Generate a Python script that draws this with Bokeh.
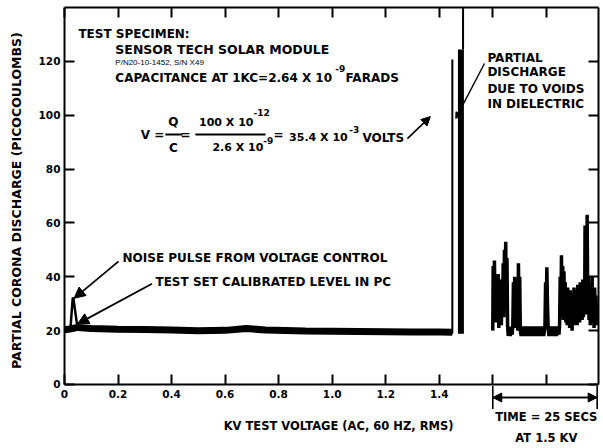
import math
from bokeh.plotting import figure
from bokeh.models import Range1d, FixedTicker, LinearAxis, Label, Arrow, NormalHead, TeeHead
from bokeh.embed import file_html
from bokeh.resources import INLINE

# ---------------- data ----------------
x_ticks = [0, 0.2, 0.4, 0.6, 0.8, 1.0, 1.2, 1.4, 1.6, 1.8]
x_tick_labels = ["0", "0.2", "0.4", "0.6", "0.8", "1.0", "1.2", "1.4", "", ""]
y_ticks = [0, 20, 40, 60, 80, 100, 120]
y_tick_labels = ["0", "20", "40", "60", "80", "100", "120"]

# voltage sweep (kV) – recorder baseline band
sweep_kv = [0.0, 0.02, 0.05, 0.1, 0.2, 0.3, 0.4, 0.5, 0.6, 0.68, 0.75, 0.9, 1.0, 1.1, 1.2, 1.3, 1.4, 1.449]
sweep_pc = [20.3, 20.6, 21.2, 20.8, 20.5, 20.4, 20.2, 20.0, 20.1, 20.8, 20.2, 19.9, 19.8, 19.7, 19.6, 19.5, 19.5, 19.4]
# noise pulse from voltage control
pulse_kv = [0.022, 0.031, 0.034, 0.048]
pulse_pc = [20.5, 32.3, 31.5, 21.5]
# partial discharge spikes near 1.45 kV
spike_kv = [1.449, 1.481]
spike_pc = [120.7, 124.4]
spike_base = 18.8
offscale_kv = 1.489

# 25 s recording held at 1.5 kV
time_s = [0.00, 0.10, 0.25, 0.40, 0.55, 0.70, 0.85, 1.00, 1.15, 1.30, 1.45, 1.60, 1.75, 1.90, 2.05, 2.20, 2.35,
          2.50, 2.65, 2.80, 2.95, 3.10, 3.25, 3.40, 3.55, 3.70, 3.95, 4.20, 4.45, 4.65, 4.80, 4.95, 5.10, 5.25,
          5.40, 5.55, 5.70, 5.85, 6.00, 6.15, 6.30, 6.45, 6.60, 6.80, 7.10, 7.40, 7.70, 8.00, 8.30, 8.60, 8.90,
          9.20, 9.50, 9.80, 10.10, 10.40, 10.70, 11.00, 11.30, 11.60, 11.90, 12.20, 12.50, 12.65, 12.80, 12.95,
          13.10, 13.25, 13.45, 13.75, 14.05, 14.35, 14.65, 14.95, 15.25, 15.55, 15.85, 16.00, 16.15, 16.30,
          16.45, 16.60, 16.75, 16.90, 17.05, 17.20, 17.35, 17.50, 17.65, 17.80, 17.95, 18.10, 18.25, 18.40,
          18.55, 18.70, 18.85, 19.00, 19.15, 19.30, 19.45, 19.60, 19.75, 19.90, 20.05, 20.20, 20.35, 20.50,
          20.65, 20.80, 20.95, 21.10, 21.25, 21.40, 21.55, 21.70, 21.85, 22.00, 22.10, 22.25, 22.40, 22.50,
          22.60, 22.75, 22.90, 23.05, 23.20, 23.35, 23.50, 23.65, 23.80, 23.95, 24.10, 24.25, 24.40, 24.55,
          24.70, 24.85, 25.00]
time_pc = [20, 44, 24, 46, 26, 40, 23, 38, 28, 41, 21, 36, 24, 39, 22, 34, 27,
           45, 25, 50, 30, 53, 28, 47, 22, 18, 21.5, 18, 21.5, 18.5, 22, 38, 24, 40,
           21, 33, 23, 37, 20, 45, 24, 40, 20, 18, 21.5, 18, 21.5, 18, 21.5, 18, 21.5,
           18, 21.5, 18, 21.5, 18, 21.5, 18, 21.5, 18, 21.5, 18, 21.5, 38, 27, 43.5,
           30, 21.5, 18, 21.5, 18, 21.5, 18, 21.5, 18, 21.5, 18.5, 22, 40, 25,
           48, 28, 44, 24, 42, 26, 38, 23, 34, 22, 36, 24, 33, 21,
           35, 25, 32, 20, 34, 23, 36, 22, 31, 24, 35, 22, 37, 25,
           34, 23, 38, 26, 33, 24, 39, 25, 36, 27, 59, 28, 45, 26,
           63, 30, 40, 24, 37, 22, 35, 25, 40, 23, 34, 21, 36, 24,
           33, 22, 30]
time_start_kv = 1.6
time_span_kv = 0.39
time_total_s = 25.0
time_kv = [time_start_kv + s * time_span_kv / time_total_s for s in time_s]

X_MIN = -0.239   # room left of the y axis for its labels
X_MAX = 1.995
Y_MAX = 140.0
Y_MIN = -23.77   # room below the x axis for the captions

FONT = "DejaVu Sans"

# ---------------- figure ----------------
p = figure(width=603, height=448, output_backend="svg", toolbar_location=None,
           x_range=Range1d(X_MIN, X_MAX), y_range=Range1d(Y_MIN, Y_MAX),
           min_border_left=0, min_border_right=5, min_border_top=7, min_border_bottom=0,
           background_fill_color="white", border_fill_color="white")
p.grid.visible = False
p.outline_line_color = None


def style_axis(ax, ticks, labels, show_labels):
    ax.ticker = FixedTicker(ticks=ticks)
    ax.major_label_overrides = {t: l for t, l in zip(ticks, labels)}
    ax.major_tick_in = 10
    ax.major_tick_out = 0
    ax.minor_tick_in = 0
    ax.minor_tick_out = 0
    ax.major_tick_line_width = 2
    ax.major_tick_line_color = "black"
    ax.axis_line_color = "black"
    ax.axis_line_width = 2
    ax.major_label_text_font = FONT
    ax.major_label_text_font_style = "bold"
    ax.major_label_text_color = "black"
    if show_labels:
        ax.major_label_text_font_size = "10.5px"
    else:
        ax.major_label_text_font_size = "0px"
        ax.major_label_standoff = 0


xa = p.xaxis[0]
style_axis(xa, x_ticks, x_tick_labels, True)
xa.major_label_standoff = 6
xa.fixed_location = 0
xa.bounds = (0, X_MAX)

ya = p.yaxis[0]
style_axis(ya, y_ticks, y_tick_labels, True)
ya.bounds = (0, Y_MAX)
ya.major_label_standoff = 4
ya.fixed_location = 0

top_ax = LinearAxis()
style_axis(top_ax, x_ticks, ["" for _ in x_ticks], False)
top_ax.bounds = (0, X_MAX)
p.add_layout(top_ax, "above")
right_ax = LinearAxis()
style_axis(right_ax, y_ticks, ["" for _ in y_ticks], False)
right_ax.bounds = (0, Y_MAX)
p.add_layout(right_ax, "right")

# ---------------- traces ----------------
p.line(sweep_kv, sweep_pc, line_color="black", line_width=7)
p.line(pulse_kv, pulse_pc, line_color="black", line_width=2.5)
p.segment(x0=[spike_kv[0]], y0=[spike_base], x1=[spike_kv[0]], y1=[spike_pc[0]], line_color="black", line_width=2)
p.segment(x0=[spike_kv[1]], y0=[spike_base], x1=[spike_kv[1]], y1=[spike_pc[1]], line_color="black", line_width=6)
p.segment(x0=[offscale_kv], y0=[spike_pc[1]], x1=[offscale_kv], y1=[Y_MAX], line_color="black", line_width=2)
p.line(time_kv, time_pc, line_color="black", line_width=3.5)


# ---------------- annotations ----------------
def txt(x, y, s, size="12px", align="left", font=FONT, style="bold", angle=0.0):
    p.add_layout(Label(x=x, y=y, text=s, text_font=font, text_font_style=style,
                       text_font_size=size, text_align=align, text_baseline="middle",
                       text_color="black", angle=angle))


def arrow(x0, y0, x1, y1, head=10, width=1.6):
    end = NormalHead(size=head, fill_color="black", line_color="black") if head else None
    p.add_layout(Arrow(end=end, x_start=x0, y_start=y0, x_end=x1, y_end=y1,
                       line_color="black", line_width=width))


# y axis title
txt(-0.180, 68.3, "PARTIAL CORONA DISCHARGE (PICOCOULOMBS)", size="12.5px", align="center",
    angle=math.pi / 2)

txt(0.052, 130.3, "TEST SPECIMEN:")
txt(0.19, 124.4, "SENSOR TECH SOLAR MODULE", size="12.5px")
txt(0.19, 119.6, "P/N20-10-1452, S/N X49", size="8px", font="Liberation Sans", style="normal")
txt(0.19, 114.0, "CAPACITANCE AT 1KC=2.64 X 10")
txt(1.012, 117.2, "-9", size="9px")
txt(1.05, 114.0, "FARADS")

# equation
txt(0.285, 92.5, "V =")
txt(0.407, 97.3, "Q", align="center")
txt(0.407, 88.0, "C", align="center")
arrow(0.377, 92.8, 0.441, 92.8, head=None, width=2)
txt(0.452, 92.5, "=", align="center")
txt(0.706, 97.3, "100 X 10", size="11px", align="right")
txt(0.706, 101.0, "-12", size="9px")
arrow(0.489, 92.8, 0.751, 92.8, head=None, width=2)
txt(0.743, 88.0, "2.6 X 10", size="11px", align="right")
txt(0.743, 90.6, "-9", size="9px")
txt(0.80, 92.5, "=", align="center")
txt(1.058, 91.7, "35.4 X 10", size="11px", align="right")
txt(1.064, 94.7, "-3", size="9px")
txt(1.113, 91.7, "VOLTS")
arrow(1.281, 91.3, 1.367, 99.5, head=9)

# partial discharge note
txt(1.580, 121.4, "PARTIAL")
txt(1.580, 115.9, "DISCHARGE")
txt(1.580, 109.9, "DUE TO VOIDS")
txt(1.580, 104.3, "IN DIELECTRIC")
arrow(1.569, 119.2, 1.462, 98.8, head=6, width=1.4)

# noise / calibration notes
txt(0.217, 46.8, "NOISE PULSE FROM VOLTAGE CONTROL")
arrow(0.202, 45.7, 0.036, 32.0, head=11, width=1.8)
txt(0.34, 37.9, "TEST SET  CALIBRATED LEVEL IN PC")
arrow(0.327, 37.4, 0.049, 22.5, head=11, width=1.8)

# x axis caption and time span
txt(1.024, -15.6, "KV TEST VOLTAGE (AC, 60 HZ, RMS)", size="11.5px", align="center")
span_y = -4.83
p.add_layout(Arrow(start=NormalHead(size=9, fill_color="black", line_color="black"),
                   end=NormalHead(size=9, fill_color="black", line_color="black"),
                   x_start=time_start_kv, y_start=span_y, x_end=time_start_kv + time_span_kv, y_end=span_y,
                   line_color="black", line_width=1.6))
p.add_layout(Arrow(start=TeeHead(size=23, line_color="black", line_width=1.6),
                   end=TeeHead(size=23, line_color="black", line_width=1.6),
                   x_start=time_start_kv, y_start=span_y, x_end=time_start_kv + time_span_kv, y_end=span_y,
                   line_color="black", line_width=1.6))
txt(1.80, -12.25, "TIME = 25 SECS", size="11.5px", align="center")
txt(1.80, -20.05, "AT 1.5 KV", size="11.5px", align="center")

open("out.html", "w").write(file_html(p, INLINE))
